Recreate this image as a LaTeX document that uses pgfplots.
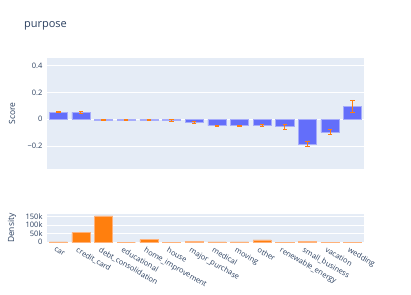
\documentclass[border=0pt]{standalone}
\usepackage{pgfplots}
\pgfplotsset{compat=1.18}
\usepackage{pgfplotstable}
\usepackage{fontspec}
\setmainfont{Open Sans}
\definecolor{plotbg}{HTML}{E5ECF6}
\definecolor{barblue}{HTML}{636EFA}
\definecolor{barblueedge}{HTML}{A6ACFB}
\definecolor{orng}{HTML}{FF7F0E}
\definecolor{orngedge}{HTML}{FFB27A}
\definecolor{txt}{HTML}{2A3F5F}

\pgfplotstableread{
x y err
0 0.053 0.004
1 0.052 0.004
2 -0.005 0.003
3 -0.005 0.003
4 -0.005 0.003
5 -0.010 0.008
6 -0.025 0.007
7 -0.048 0.006
8 -0.048 0.006
9 -0.045 0.006
10 -0.055 0.019
11 -0.187 0.019
12 -0.097 0.019
13 0.097 0.046
}\scoretable

\pgfplotstableread{
x y
0 2600
1 55700
2 151700
3 0
4 16000
5 1400
6 5500
7 3000
8 1800
9 14500
10 200
11 3200
12 1700
13 400
}\densitytable

\begin{document}
\begin{tikzpicture}[font=\fontsize{7.5}{9}\selectfont, every node/.style={text=txt}]
\path[use as bounding box] (0,0) rectangle (411pt,-294pt);
\node[anchor=base west, font=\fontsize{11}{13}\selectfont] at (20.5pt,-27.8pt) {purpose};

\pgfplotsset{
  mystyle/.style={
    scale only axis,
    width=317pt,
    xmin=-0.5, xmax=13.5,
    axis background/.style={fill=plotbg},
    axis line style={draw=none},
    major tick length=0pt,
    ymajorgrids,
    grid style={white, line width=0.8pt},
    xtick=data,
    /pgf/number format/assume math mode=true,
    ylabel style={at={(axis description cs:-0.11,0.5)}, anchor=center, rotate=0, font=\fontsize{8.5}{10}\selectfont},
    yticklabel style={font=\fontsize{7.5}{9}\selectfont, text=txt, xshift=-1pt},
    bar width=0.8,
    clip=false,
  }
}

\begin{axis}[mystyle,
  at={(47pt,-58pt)}, anchor=north west,
  height=111pt,
  ymin=-0.372, ymax=0.459,
  ytick={-0.2,0,0.2,0.4},
  yticklabels={−0.2,0,0.2,0.4},
  xticklabels={},
  ylabel={Score},
  extra y ticks={0},
  extra y tick labels={},
  extra y tick style={grid style={white, line width=1.6pt}},
]
\addplot[ybar, fill=barblue, draw=barblueedge, line width=0.5pt,
  error bars/.cd, y dir=both, y explicit,
  error bar style={color=orng, line width=1pt},
  error mark options={rotate=90, mark size=2.2pt, line width=0.8pt, color=orng}]
  table[x=x, y=y, y error=err] {\scoretable};
\end{axis}

\begin{axis}[mystyle,
  at={(47pt,-214pt)}, anchor=north west,
  height=28.3pt,
  ymin=0, ymax=163000,
  ytick={0,50000,100000,150000},
  yticklabels={0,50k,100k,150k},
  scaled y ticks=false,
  ylabel={Density},
  xticklabels={car,credit\_card,debt\_consolidation,educational,home\_improvement,house,major\_purchase,medical,moving,other,renewable\_energy,small\_business,vacation,wedding},
  xticklabel style={rotate=-30, anchor=north west, inner sep=0pt, xshift=0pt, yshift=-5pt, font=\fontsize{7.5}{9}\selectfont, text=txt},
]
\addplot[ybar, fill=orng, draw=orngedge, line width=0.5pt]
  table[x=x, y=y] {\densitytable};
\end{axis}
\end{tikzpicture}
\end{document}
